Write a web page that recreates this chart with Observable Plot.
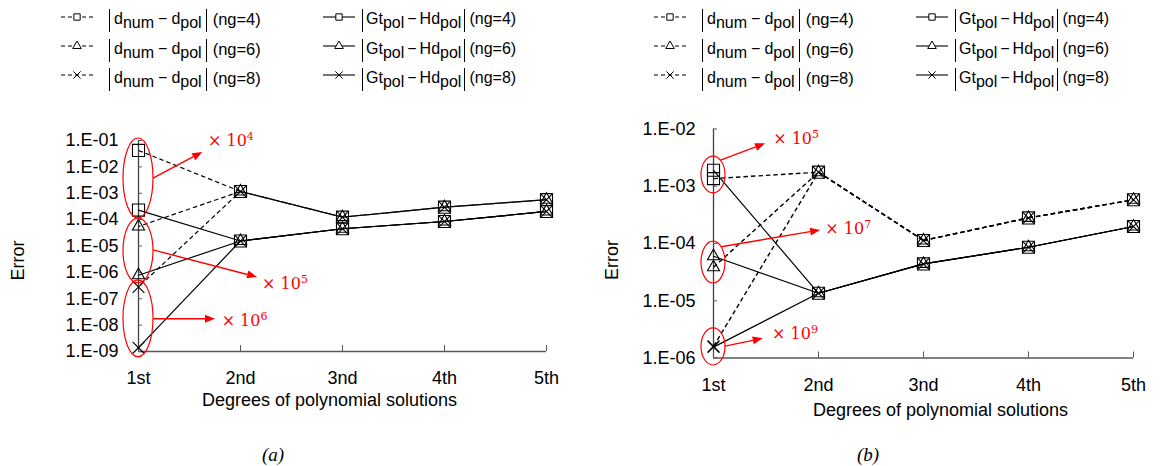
<!DOCTYPE html>
<html><head><meta charset="utf-8">
<script src="https://cdn.jsdelivr.net/npm/d3@7"></script>
<script src="https://cdn.jsdelivr.net/npm/@observablehq/plot@0.6"></script>
<style>
body{margin:0;background:#fff;}
#fig{position:relative;width:1162px;height:466px;overflow:hidden;font-family:"Liberation Sans",Arial,sans-serif;color:#000;}
.leg-sample{position:absolute;overflow:visible;}
.leg-text{position:absolute;display:flex;align-items:flex-start;white-space:nowrap;}
.bars{display:inline-block;box-sizing:border-box;height:23px;border-left:1.4px solid #000;border-right:1.4px solid #000;padding:1px 4px 0 4px;line-height:18px;font-size:16px;}
.bars sub{font-size:16px;vertical-align:-4px;line-height:0;}
.bars .minus{margin:0 4px;}
.col2 .bars{padding:1px 3px 0 3px;}
.col2 .bars .minus{margin:0 3px;}
.ng{display:inline-block;line-height:18px;padding-top:1px;margin-left:6px;font-size:16.5px;}
.col2 .ng{margin-left:4px;font-size:16px;}
.cap{position:absolute;font-family:"Liberation Serif",serif;font-style:italic;font-size:19px;transform:translate(-50%,-50%);}
</style></head>
<body><div id="fig"></div>
<script>
// ---------- data ----------
const categories = ["1st", "2nd", "3nd", "4th", "5th"];
const ngValues = [4, 6, 8];

// panel (a)
const aDiffNg4 = [4.2e-2, 1.17e-3, 1.24e-4, 2.96e-4, 5.7e-4];
const aDiffNg6 = [5.5e-5, 1.17e-3, 1.24e-4, 2.96e-4, 5.7e-4];
const aDiffNg8 = [2.8e-7, 1.17e-3, 1.24e-4, 2.96e-4, 5.7e-4];
const aGtHdNg4 = [2.3e-4, 1.55e-5, 4.5e-5, 8.5e-5, 2.04e-4];
const aGtHdNg6 = [7.8e-7, 1.55e-5, 4.5e-5, 8.5e-5, 2.04e-4];
const aGtHdNg8 = [1.4e-9, 1.55e-5, 4.5e-5, 8.5e-5, 2.04e-4];
const aYTicks = [1e-1, 1e-2, 1e-3, 1e-4, 1e-5, 1e-6, 1e-7, 1e-8, 1e-9];
const aYTickLabels = ["1.E-01", "1.E-02", "1.E-03", "1.E-04", "1.E-05", "1.E-06", "1.E-07", "1.E-08", "1.E-09"];

// panel (b)
const bDiffNg4 = [1.36e-3, 1.76e-3, 1.13e-4, 2.8e-4, 5.8e-4];
const bDiffNg6 = [3.85e-5, 1.76e-3, 1.13e-4, 2.8e-4, 5.8e-4];
const bDiffNg8 = [1.6e-6, 1.76e-3, 1.13e-4, 2.8e-4, 5.8e-4];
const bGtHdNg4 = [1.9e-3, 1.35e-5, 4.4e-5, 8.6e-5, 1.98e-4];
const bGtHdNg6 = [6.0e-5, 1.35e-5, 4.4e-5, 8.6e-5, 1.98e-4];
const bGtHdNg8 = [1.55e-6, 1.35e-5, 4.4e-5, 8.6e-5, 1.98e-4];
const bYTicks = [1e-2, 1e-3, 1e-4, 1e-5, 1e-6];
const bYTickLabels = ["1.E-02", "1.E-03", "1.E-04", "1.E-05", "1.E-06"];

// annotations (ellipse extents in data units, arrow + label anchors; x as fraction of category step from "1st")
const aAnnoHi = [0.119, 1.1e-4, 5.0e-7];
const aAnnoLo = [1.1e-4, 3.8e-7, 6.0e-10];
const aArrowStart = [3.6e-3, 6.8e-6, 1.66e-8];
const aArrowEndX = [0.63, 1.167, 0.755];
const aArrowEndY = [3.5e-2, 6.4e-7, 1.66e-8];
const aLabelX = [0.686, 1.216, 0.82];
const aLabelY = [1e-1, 3.8e-7, 1.5e-8];
const aExp = ["4", "5", "6"];

const bAnnoHi = [3.3e-3, 1.08e-4, 3.3e-6];
const bAnnoLo = [7.5e-4, 2.0e-5, 7.4e-7];
const bArrowStart = [2.8e-3, 8.6e-5, 1.58e-6];
const bArrowEndX = [0.496, 1.02, 0.474];
const bArrowEndY = [5.5e-3, 1.69e-4, 2.16e-6];
const bLabelX = [0.573, 1.07, 0.563];
const bLabelY = [6.8e-3, 1.83e-4, 2.68e-6];
const bExp = ["5", "7", "9"];

const xLabelText = "Degrees of polynomial solutions";
const yLabelText = "Error";
const legendTerms = [["d", "num", "d", "pol"], ["Gt", "pol", "Hd", "pol"]];
const captions = ["(a)", "(b)"];

// ---------- helpers ----------
const symbols = {4: "square", 6: "triangle", 8: "times"};
const symbolR = {4: 6.8, 6: 4.5, 8: 5.4};
const RED = "#ff0000";

function toRows(kind, seriesList) {
  const out = [];
  seriesList.forEach((vals, i) => {
    vals.forEach((v, j) => out.push({kind, ng: ngValues[i], cat: categories[j], value: v}));
  });
  return out;
}
function toSegments(vals, ng) {
  const out = [];
  for (let j = 0; j < vals.length - 1; j++) {
    out.push({ng, c1: categories[j], v1: vals[j], c2: categories[j + 1], v2: vals[j + 1]});
  }
  return out;
}

function annoMark(A, rx) {
  return (index, scales) => {
    const x = scales.x, y = scales.y;
    const x0 = x(categories[0]), step = x(categories[1]) - x0;
    const g = d3.create("svg:g");
    A.hi.forEach((hi, i) => {
      const yTop = y(hi), yBot = y(A.lo[i]);
      const cy = (yTop + yBot) / 2, ry = (yBot - yTop) / 2;
      g.append("ellipse").attr("cx", x0).attr("cy", cy).attr("rx", rx).attr("ry", ry)
        .attr("fill", "none").attr("stroke", RED).attr("stroke-width", 1.2);
      const sy = y(A.start[i]);
      const sx = x0 + rx * Math.sqrt(Math.max(0, 1 - ((sy - cy) / ry) ** 2));
      const ex = x0 + A.endX[i] * step, ey = y(A.endY[i]);
      const ang = Math.atan2(ey - sy, ex - sx);
      const hl = 10, hw = 4;
      const bx = ex - hl * Math.cos(ang), by = ey - hl * Math.sin(ang);
      g.append("line").attr("x1", sx).attr("y1", sy).attr("x2", bx).attr("y2", by)
        .attr("stroke", RED).attr("stroke-width", 1.4);
      g.append("path")
        .attr("d", `M${ex},${ey}L${bx - hw * Math.sin(ang)},${by + hw * Math.cos(ang)}L${bx + hw * Math.sin(ang)},${by - hw * Math.cos(ang)}Z`)
        .attr("fill", RED);
      const t = g.append("text").attr("x", x0 + A.labX[i] * step).attr("y", y(A.labY[i])).attr("dy", "0.35em")
        .attr("text-anchor", "start")
        .attr("fill", RED).attr("font-family", "'DejaVu Serif', serif").attr("font-size", 16);
      t.append("tspan").text("× 10");
      t.append("tspan").attr("dy", "-0.55em").attr("font-size", 11).text(A.exp[i]);
    });
    return g.node();
  };
}

function yLabelMark(dx, dy) {
  return (index, scales, values, dims) => {
    const cy = (dims.marginTop + dims.height - dims.marginBottom) / 2 + dy;
    const cx = dims.marginLeft + dx;
    const t = d3.create("svg:text")
      .attr("transform", `translate(${cx},${cy}) rotate(-90)`)
      .attr("text-anchor", "middle").attr("dy", "0.35em")
      .attr("font-size", 18).attr("fill", "#000")
      .text(yLabelText);
    return t.node();
  };
}

function makePanel(cfg) {
  const dashed = toRows("diff", cfg.diff);
  const solid = toRows("gthd", cfg.gthd);
  const all = dashed.concat(solid);
  const tickMap = new Map(cfg.ticks.map((t, i) => [t, cfg.tickLabels[i]]));
  const yMin = d3.min(cfg.ticks), yMax = d3.max(cfg.ticks);
  const axisColor = "#595959";
  const dashedMarks = cfg.diff.map((vals, i) =>
    Plot.link(toSegments(vals, ngValues[i]), {
      x1: "c1", y1: "v1", x2: "c2", y2: "v2", stroke: "#000",
      strokeWidth: cfg.dashWidth, strokeDasharray: "4.5,3", strokeDashoffset: cfg.dashOffsets[i]
    }));
  const marks = [
    Plot.ruleY([yMin], {x1: () => categories[0], x2: () => categories[categories.length - 1], stroke: axisColor, strokeWidth: 1.3}),
    Plot.ruleX([categories[0]], {y1: yMin, y2: yMax, stroke: "#404040", strokeWidth: 1.3}),
    Plot.axisX({tickSize: -6, tickFormat: () => "", label: null, stroke: axisColor}),
    Plot.axisX({tickSize: 0, tickPadding: cfg.xTickPad, fontSize: 18, label: null}),
    Plot.axisY({ticks: cfg.ticks, tickSize: -4, tickFormat: () => "", label: null, stroke: axisColor}),
    Plot.axisY({ticks: cfg.ticks, tickSize: 0, tickPadding: cfg.yTickPad, tickFormat: d => tickMap.get(d), fontSize: 18, label: null}),
    ...dashedMarks,
    Plot.line(solid, {x: "cat", y: "value", z: "ng", stroke: "#000", strokeWidth: 1.2}),
    ...ngValues.map(ng => Plot.dot(all.filter(d => d.ng === ng), {
      x: "cat", y: "value", symbol: symbols[ng], r: symbolR[ng], stroke: "#000", fill: "none", strokeWidth: 1.1
    })),
    annoMark(cfg.anno, cfg.rx),
    Plot.text([xLabelText], {text: d => d, frameAnchor: "bottom", dx: cfg.xLabelDx, dy: cfg.xLabelDy, fontSize: 18, lineAnchor: "middle"}),
    yLabelMark(cfg.yLabelDx, cfg.yLabelDy)
  ];
  return Plot.plot({
    width: cfg.width, height: cfg.height,
    marginLeft: cfg.ml, marginRight: cfg.mr, marginTop: cfg.mt, marginBottom: cfg.mb,
    x: {type: "point", domain: categories, padding: 0},
    y: {type: "log", domain: [yMin, yMax]},
    style: {position: "absolute", left: cfg.left + "px", top: cfg.top + "px", overflow: "visible",
            fontFamily: "'Liberation Sans', Arial, sans-serif", fontSize: "18px", background: "transparent", color: "#000"},
    marks
  });
}

const fig = document.getElementById("fig");

fig.appendChild(makePanel({
  diff: [aDiffNg4, aDiffNg6, aDiffNg8], gthd: [aGtHdNg4, aGtHdNg6, aGtHdNg8],
  ticks: aYTicks, tickLabels: aYTickLabels, dashOffsets: [0, 2.5, 5], dashWidth: 1.2,
  left: 0, top: 100, width: 580, height: 330, ml: 138, mr: 34, mt: 40, mb: 79,
  xTickPad: 19.5, yTickPad: 20, xLabelDx: -13, xLabelDy: 49, yLabelDx: -120, yLabelDy: 15, rx: 15,
  anno: {hi: aAnnoHi, lo: aAnnoLo, start: aArrowStart, endX: aArrowEndX, endY: aArrowEndY, labX: aLabelX, labY: aLabelY, exp: aExp}
}));

fig.appendChild(makePanel({
  diff: [bDiffNg4, bDiffNg6, bDiffNg8], gthd: [bGtHdNg4, bGtHdNg6, bGtHdNg8],
  ticks: bYTicks, tickLabels: bYTickLabels, dashOffsets: [0, 0, 0], dashWidth: 1.4,
  left: 580, top: 100, width: 582, height: 330, ml: 133, mr: 29, mt: 28.5, mb: 72.5,
  xTickPad: 20, yTickPad: 18, xLabelDx: 17, xLabelDy: 52.5, yLabelDx: -101, yLabelDy: 17, rx: 12,
  anno: {hi: bAnnoHi, lo: bAnnoLo, start: bArrowStart, endX: bArrowEndX, endY: bArrowEndY, labX: bLabelX, labY: bLabelY, exp: bExp}
}));

// ---------- legends ----------
function sampleSvg(ng, dashed) {
  const w = 32, h = 14;
  const s = d3.create("svg").attr("width", w).attr("height", h).attr("class", "leg-sample");
  s.append("line").attr("x1", 0).attr("x2", w).attr("y1", h / 2).attr("y2", h / 2)
    .attr("stroke", "#000").attr("stroke-width", 1.1).attr("stroke-dasharray", dashed ? "4,3" : null);
  const sizes = {4: 40, 6: 32, 8: 36};
  const sym = {4: d3.symbolSquare, 6: d3.symbolTriangle, 8: d3.symbolTimes}[ng];
  s.append("path").attr("transform", `translate(${w / 2},${h / 2})`)
    .attr("d", d3.symbol(sym, sizes[ng])()).attr("fill", "#fff").attr("stroke", "#000").attr("stroke-width", 1);
  return s.node();
}
[0, 593].forEach(ox => {
  [0, 1].forEach(c => {
    ngValues.forEach((ng, r) => {
      const smp = sampleSvg(ng, c === 0);
      smp.style.left = (ox + (c ? 323 : 61)) + "px";
      smp.style.top = (16.7 + 29.3 * r - 7) + "px";
      fig.appendChild(smp);
      const t = legendTerms[c];
      const div = document.createElement("div");
      div.className = "leg-text" + (c ? " col2" : "");
      div.style.left = (ox + (c ? 362 : 109)) + "px";
      div.style.top = (9.3 + 29.3 * r) + "px";
      div.innerHTML = `<span class="bars">${t[0]}<sub>${t[1]}</sub><span class="minus">−</span>${t[2]}<sub>${t[3]}</sub></span><span class="ng">(ng=${ng})</span>`;
      fig.appendChild(div);
    });
  });
});

// ---------- captions ----------
[[273, 455], [868, 455]].forEach((p, i) => {
  const d = document.createElement("div");
  d.className = "cap";
  d.style.left = p[0] + "px";
  d.style.top = p[1] + "px";
  d.textContent = captions[i];
  fig.appendChild(d);
});
</script>
</body></html>
